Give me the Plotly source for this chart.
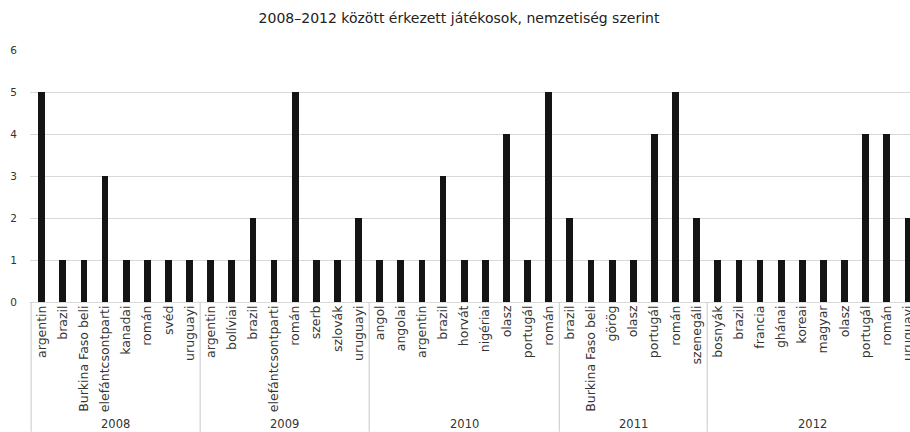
import plotly.graph_objects as go

years = ["2008", "2009", "2010", "2011", "2012"]
nationalities = [
    ["argentin", "brazil", "Burkina Faso beli", "elefántcsontparti", "kanadai", "román", "svéd", "uruguayi"],
    ["argentin", "bolíviai", "brazil", "elefántcsontparti", "román", "szerb", "szlovák", "uruguayi"],
    ["angol", "angolai", "argentin", "brazil", "horvát", "nigériai", "olasz", "portugál", "román"],
    ["brazil", "Burkina Faso beli", "görög", "olasz", "portugál", "román", "szenegáli"],
    ["bosnyák", "brazil", "francia", "ghánai", "koreai", "magyar", "olasz", "portugál", "román", "uruguayi"],
]
counts = [
    [5, 1, 1, 3, 1, 1, 1, 1],
    [1, 1, 2, 1, 5, 1, 1, 2],
    [1, 1, 1, 3, 1, 1, 4, 1, 5],
    [2, 1, 1, 1, 4, 5, 2],
    [1, 1, 1, 1, 1, 1, 1, 4, 4, 2],
]
y_ticks = [0, 1, 2, 3, 4, 5, 6]
title = "2008–2012 között érkezett játékosok, nemzetiség szerint"

labels, values = [], []
for names, vals in zip(nationalities, counts):
    labels += names
    values += vals
idx = list(range(len(labels)))

FONT = "DejaVu Sans"
fig = go.Figure(go.Bar(x=idx, y=values, width=0.32, marker=dict(color="#141414", line=dict(width=0))))

W, H = 910, 432
L, R, T, B = 30, 0, 49.5, 432 - 302
plot_h = H - T - B

shapes, annotations = [], []
start = 0
bounds = [-0.5]
for yr, names in zip(years, nationalities):
    n = len(names)
    bounds.append(start + n - 0.5)
    annotations.append(dict(x=start + (n - 1) / 2, y=-(424 - 302) / plot_h, xref="x", yref="paper",
                            text=yr, showarrow=False, font=dict(family=FONT, size=11.5, color="#333333"),
                            xanchor="center", yanchor="middle"))
    start += n
for b in bounds:
    shapes.append(dict(type="line", xref="x", yref="paper", x0=b, x1=b, y0=0, y1=-B / plot_h,
                       line=dict(color="#c8c8c8", width=1)))

fig.update_layout(
    width=W, height=H,
    margin=dict(l=L, r=R, t=T, b=B, autoexpand=False),
    plot_bgcolor="white", paper_bgcolor="white",
    showlegend=False,
    title=dict(text=title, x=459 / W, xanchor="center", y=1 - 18 / H, yanchor="middle",
               font=dict(family=FONT, size=14, color="#222222")),
    xaxis=dict(range=[-0.554, 41.1], tickmode="array", tickvals=idx, ticktext=labels,
               tickangle=-90, tickfont=dict(family=FONT, size=12.5, color="#333333"),
               ticklabeloverflow="allow", ticklen=0,
               showgrid=False, zeroline=False, showline=False, ticks="", fixedrange=True),
    yaxis=dict(range=[0, 6], tickmode="array", tickvals=y_ticks, ticktext=[str(v) for v in y_ticks],
               tickfont=dict(family=FONT, size=10.5, color="#333333"),
               showgrid=True, gridcolor="#d9d9d9", gridwidth=1,
               zeroline=True, zerolinecolor="#d9d9d9", zerolinewidth=1,
               showline=False, ticks="", ticklabelstandoff=12),
    shapes=shapes, annotations=annotations,
    bargap=0,
)
fig.write_html("out.html", config={"displayModeBar": False},
               post_script="document.body.style.margin='0';document.body.style.overflow='hidden';")
